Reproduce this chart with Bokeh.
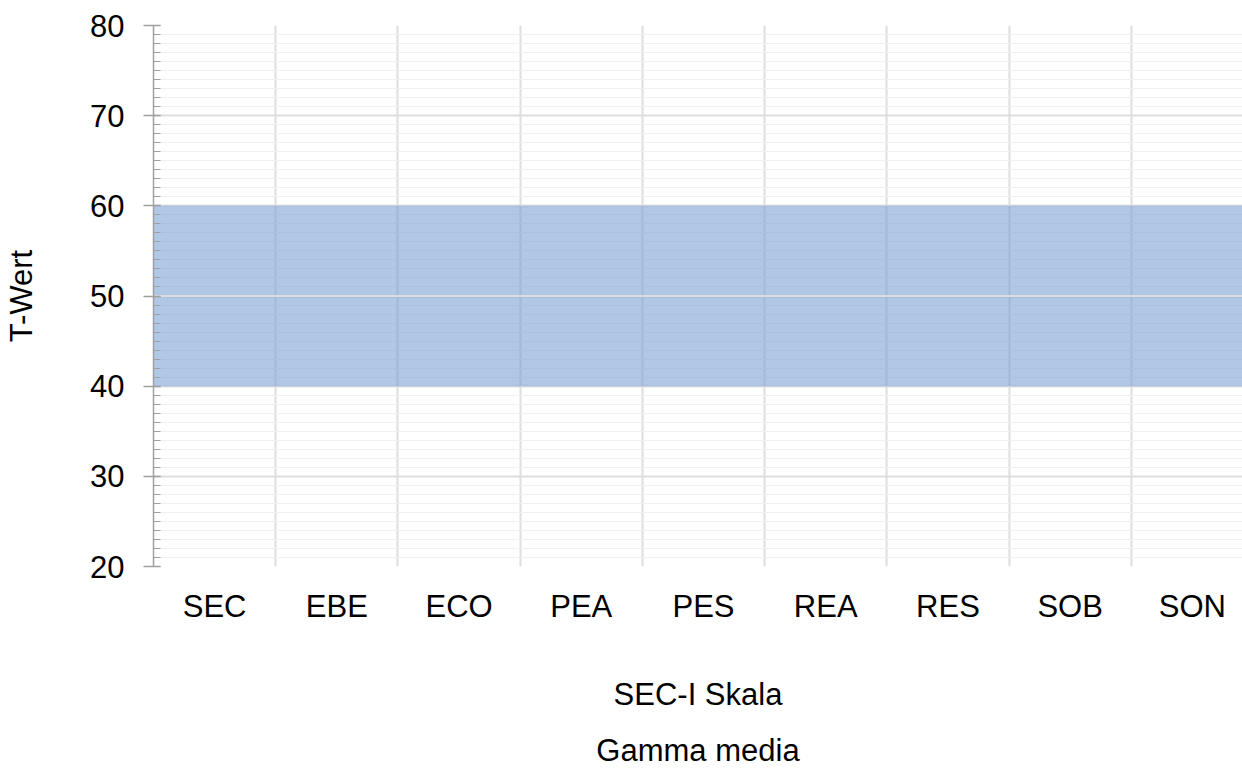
from bokeh.plotting import figure
from bokeh.models import Range1d, FixedTicker, Title
from bokeh.embed import file_html
from bokeh.resources import INLINE

categories = ["SEC", "EBE", "ECO", "PEA", "PES", "REA", "RES", "SOB", "SON"]
band_lower = [40, 40, 40, 40, 40, 40, 40, 40, 40]
band_upper = [60, 60, 60, 60, 60, 60, 60, 60, 60]
mean_values = [50, 50, 50, 50, 50, 50, 50, 50, 50]
y_ticks = [20, 30, 40, 50, 60, 70, 80]

FONT = "Liberation Sans"
FS = "31px"

n = len(categories)
p = figure(width=1242, height=783, output_backend="svg", toolbar_location=None,
           x_range=Range1d(0, 8.91), y_range=Range1d(20, 80),
           min_border_left=153, min_border_right=0, min_border_top=25,
           min_border_bottom=10)
p.outline_line_color = None
p.background_fill_color = "white"
p.border_fill_color = "white"

# band
lefts = [i for i in range(n)]
rights = [i + 1 for i in range(n)]
p.quad(left=lefts, right=rights, bottom=band_lower, top=band_upper,
       fill_color="#6a93d0", fill_alpha=0.52, line_color=None)
# mean line
xs = []
ys = []
for i in range(n):
    xs += [i, i + 1]
    ys += [mean_values[i], mean_values[i]]
p.line(xs, ys, line_color="#dcdcdc", line_width=2)

# x axis
p.xaxis.ticker = FixedTicker(ticks=[i + 0.5 for i in range(n)])
p.xaxis.major_label_overrides = {i + 0.5: c for i, c in enumerate(categories)}
p.xaxis.axis_line_color = None
p.xaxis.major_tick_line_color = None
p.xaxis.minor_tick_line_color = None
p.xaxis.major_label_standoff = 16
p.xaxis.major_label_text_font = FONT
p.xaxis.major_label_text_font_size = FS
p.xaxis.major_label_text_color = "black"
p.xaxis.axis_label = "SEC-I Skala"
p.xaxis.axis_label_text_font = FONT
p.xaxis.axis_label_text_font_size = FS
p.xaxis.axis_label_text_font_style = "normal"
p.xaxis.axis_label_text_color = "black"
p.xaxis.axis_label_standoff = 50

# y axis
p.yaxis.ticker = FixedTicker(ticks=y_ticks, minor_ticks=list(range(20, 81)))
p.yaxis.axis_line_color = "#a0a0a0"
p.yaxis.axis_line_width = 1.5
p.yaxis.major_tick_line_color = "#a0a0a0"
p.yaxis.major_tick_line_width = 1.5
p.yaxis.major_tick_out = 10
p.yaxis.major_tick_in = 7
p.yaxis.minor_tick_line_color = "#a0a0a0"
p.yaxis.minor_tick_line_width = 1
p.yaxis.minor_tick_out = 0
p.yaxis.minor_tick_in = 7
p.yaxis.major_label_standoff = 19
p.yaxis.major_label_text_font = FONT
p.yaxis.major_label_text_font_size = FS
p.yaxis.major_label_text_color = "black"
p.yaxis.axis_label = "T-Wert"
p.yaxis.axis_label_text_font = FONT
p.yaxis.axis_label_text_font_size = FS
p.yaxis.axis_label_text_font_style = "normal"
p.yaxis.axis_label_text_color = "black"
p.yaxis.axis_label_standoff = 48

# grids
p.xgrid.ticker = FixedTicker(ticks=[i for i in range(1, n + 1)])
p.xgrid.grid_line_color = "#dddddd"
p.xgrid.grid_line_width = 2
p.ygrid.grid_line_color = "#dddddd"
p.ygrid.grid_line_width = 2
p.ygrid.minor_grid_line_color = "#f0f0f0"
p.ygrid.minor_grid_line_width = 1

t = Title(text="Gamma media", align="center", text_font=FONT,
          text_font_size=FS, text_font_style="normal", text_color="black",
          standoff=32)
p.add_layout(t, "below")

open("out.html", "w").write(file_html(p, INLINE))
